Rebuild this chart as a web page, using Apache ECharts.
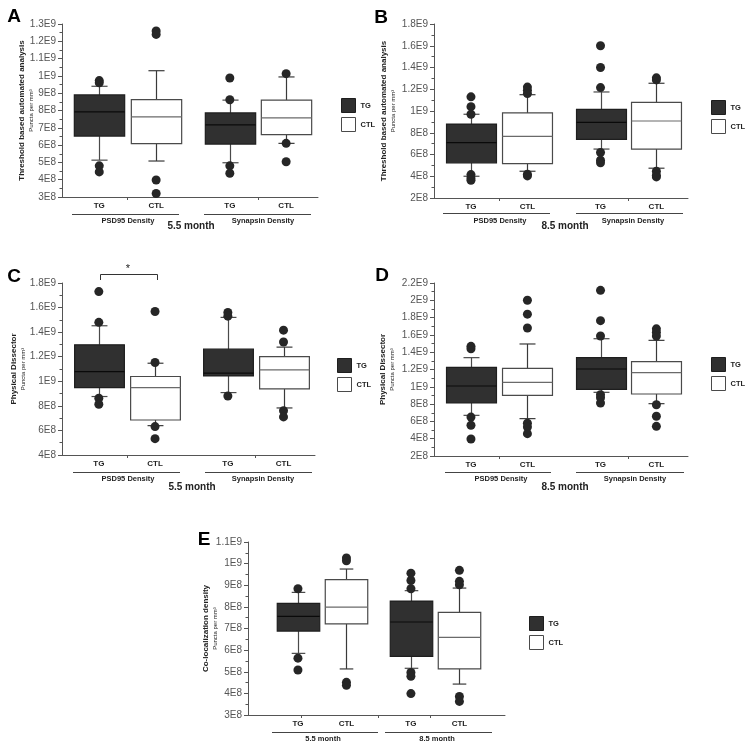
<!DOCTYPE html>
<html><head><meta charset="utf-8">
<script src="https://cdn.jsdelivr.net/npm/echarts@6/dist/echarts.min.js"></script>
<style>html,body{margin:0;padding:0;background:#fff}#c{width:746px;height:750px}</style>
</head><body><div id="c"></div>
<script>
// ---------- DATA ----------
const boxLabels = ['TG', 'CTL', 'TG', 'CTL'];
const seriesNames = ['TG', 'CTL'];
const densityGroups = ['PSD95 Density', 'Synapsin Density'];
const ageGroups = ['5.5 month', '8.5 month'];
const yTitles = ['Threshold based automated analysis', 'Physical Dissector', 'Co-localization density'];
const yUnit = 'Puncta per mm³';
const panelLetters = ['A', 'B', 'C', 'D', 'E'];

// five-number summaries [lower whisker, Q1, median, Q3, upper whisker]; order: TG, CTL, TG, CTL
const boxesA = [[5.13e8, 6.52e8, 7.92e8, 8.9e8, 9.4e8], [5.08e8, 6.08e8, 7.63e8, 8.63e8, 1.03e9], [4.98e8, 6.06e8, 7.17e8, 7.86e8, 8.6e8], [6.1e8, 6.6e8, 7.57e8, 8.6e8, 9.94e8]];
const outliersA = [[9.73e8, 9.6e8, 4.8e8, 4.45e8], [1.26e9, 1.24e9, 3.98e8, 3.2e8], [9.88e8, 8.62e8, 4.8e8, 4.37e8], [1.013e9, 6.1e8, 5.04e8]];

const boxesB = [[4.0e8, 5.23e8, 7.1e8, 8.8e8, 9.7e8], [4.46e8, 5.17e8, 7.66e8, 9.82e8, 1.15e9], [6.5e8, 7.4e8, 8.95e8, 1.015e9, 1.175e9], [4.74e8, 6.5e8, 9.08e8, 1.08e9, 1.255e9]];
const outliersB = [[1.13e9, 1.04e9, 9.7e8, 4.15e8, 3.85e8, 3.63e8], [1.22e9, 1.19e9, 1.16e9, 4.18e8, 4.03e8], [1.6e9, 1.4e9, 1.215e9, 6.18e8, 5.48e8, 5.23e8], [1.305e9, 1.286e9, 4.46e8, 4.09e8, 3.94e8]];

const boxesC = [[8.76e8, 9.49e8, 1.079e9, 1.297e9, 1.452e9], [6.39e8, 6.85e8, 9.49e8, 1.039e9, 1.147e9], [9.08e8, 1.044e9, 1.066e9, 1.261e9, 1.52e9], [7.83e8, 9.38e8, 1.093e9, 1.2e9, 1.278e9]];
const outliersC = [[1.73e9, 1.48e9, 8.62e8, 8.13e8], [1.568e9, 1.153e9, 6.31e8, 5.33e8], [1.56e9, 1.53e9, 8.8e8], [1.416e9, 1.32e9, 7.6e8, 7.1e8]];

const boxesD = [[6.7e8, 8.13e8, 1.009e9, 1.225e9, 1.337e9], [6.32e8, 9.01e8, 1.052e9, 1.213e9, 1.495e9], [9.36e8, 9.71e8, 1.206e9, 1.337e9, 1.556e9], [8.05e8, 9.17e8, 1.163e9, 1.29e9, 1.537e9]];
const outliersD = [[1.468e9, 1.44e9, 6.5e8, 5.55e8, 3.97e8], [2.0e9, 1.84e9, 1.68e9, 5.8e8, 5.35e8, 4.58e8], [2.115e9, 1.765e9, 1.587e9, 9.09e8, 8.74e8, 8.13e8], [1.67e9, 1.63e9, 1.587e9, 7.93e8, 6.59e8, 5.43e8]];

const boxesE = [[5.85e8, 6.88e8, 7.56e8, 8.16e8, 8.67e8], [5.13e8, 7.21e8, 7.99e8, 9.26e8, 9.75e8], [5.16e8, 5.71e8, 7.3e8, 8.27e8, 8.75e8], [4.43e8, 5.13e8, 6.59e8, 7.75e8, 8.87e8]];
const outliersE = [[8.84e8, 5.63e8, 5.08e8], [1.026e9, 1.013e9, 4.51e8, 4.37e8], [9.56e8, 9.22e8, 8.84e8, 4.97e8, 4.79e8, 3.99e8], [9.69e8, 9.18e8, 9.02e8, 3.86e8, 3.63e8]];

// y-axis ranges [min, max, interval]
const yRangeA = [3e8, 1.3e9, 1e8];
const yRangeB = [2e8, 1.8e9, 2e8];
const yRangeC = [4e8, 1.8e9, 2e8];
const yRangeD = [2e8, 2.2e9, 2e8];
const yRangeE = [3e8, 1.1e9, 1e8];

// ---------- LAYOUT ----------
const SLOTS4 = [0.655, 1.655, 2.95, 3.94];
const SLOTS_E = [1.03, 2.03, 3.36, 4.36];
const FONT = '"Liberation Sans", Arial, sans-serif';

const panels = [
  { boxes: boxesA, out: outliersA, y: yRangeA, title: yTitles[0], grid: { left: 62, top: 24, width: 256, height: 173 }, slots: SLOTS4, xmax: 4.5, boxW: 0.885, ticks: [1.155, 3.445], nameGap: 27, legend: [336, 93] },
  { boxes: boxesB, out: outliersB, y: yRangeB, title: yTitles[0], grid: { left: 434, top: 24, width: 254, height: 174 }, slots: SLOTS4, xmax: 4.5, boxW: 0.885, ticks: [1.155, 3.445], nameGap: 37, legend: [706, 95] },
  { boxes: boxesC, out: outliersC, y: yRangeC, title: yTitles[1], grid: { left: 62, top: 283, width: 253, height: 172 }, slots: SLOTS4, xmax: 4.5, boxW: 0.885, ticks: [1.155, 3.445], nameGap: 35, legend: [332, 353] },
  { boxes: boxesD, out: outliersD, y: yRangeD, title: yTitles[1], grid: { left: 434, top: 283, width: 254, height: 173 }, slots: SLOTS4, xmax: 4.5, boxW: 0.885, ticks: [1.155, 3.445], nameGap: 38, legend: [706, 352] },
  { boxes: boxesE, out: outliersE, y: yRangeE, title: yTitles[2], grid: { left: 248, top: 542, width: 257, height: 173 }, slots: SLOTS_E, xmax: 5.3, boxW: 0.876, ticks: [1.09, 2.68, 3.75], nameGap: 29, legend: [524, 611] }
];

const styles = [
  { fill: '#303030', border: '#1e1e1e', median: '#0a0a0a', whisker: '#4a4a4a' },
  { fill: '#ffffff', border: '#4a4a4a', median: '#6a6a6a', whisker: '#3a3a3a' }
];

function sci(v) {
  if (v >= 1e9 - 1) return +(v / 1e9).toFixed(2) + 'E9';
  return +(v / 1e8).toFixed(2) + 'E8';
}

function makeRender(boxW, st) {
  return function (params, api) {
    const x = api.value(0);
    const pMin = api.coord([x, api.value(1)]);
    const pQ1 = api.coord([x, api.value(2)]);
    const pMed = api.coord([x, api.value(3)]);
    const pQ3 = api.coord([x, api.value(4)]);
    const pMax = api.coord([x, api.value(5)]);
    const w = api.size([boxW, 0])[0];
    const cx = Math.round(pMed[0]) + 0.5;
    const half = w / 2, cap = w * 0.16;
    const ls = { stroke: st.whisker, lineWidth: 1.2 };
    return {
      type: 'group', children: [
        { type: 'line', shape: { x1: cx, y1: pMax[1], x2: cx, y2: pQ3[1] }, style: ls },
        { type: 'line', shape: { x1: cx - cap, y1: pMax[1], x2: cx + cap, y2: pMax[1] }, style: ls },
        { type: 'line', shape: { x1: cx, y1: pQ1[1], x2: cx, y2: pMin[1] }, style: ls },
        { type: 'line', shape: { x1: cx - cap, y1: pMin[1], x2: cx + cap, y2: pMin[1] }, style: ls },
        { type: 'rect', shape: { x: cx - half, y: pQ3[1], width: w, height: pQ1[1] - pQ3[1] }, style: { fill: st.fill, stroke: st.border, lineWidth: 1.2 } },
        { type: 'line', shape: { x1: cx - half, y1: pMed[1], x2: cx + half, y2: pMed[1] }, style: { stroke: st.median, lineWidth: 1.2 } }
      ]
    };
  };
}

const grids = [], xAxes = [], yAxes = [], series = [], legends = [];
panels.forEach(function (p, i) {
  grids.push(Object.assign({ containLabel: false }, p.grid));
  xAxes.push({
    type: 'value', gridIndex: i, min: 0, max: p.xmax,
    axisLine: { show: true, onZero: false, lineStyle: { color: '#555', width: 1 } },
    axisTick: { show: true, customValues: p.ticks, length: 3, lineStyle: { color: '#555' } },
    axisLabel: {
      customValues: p.slots, margin: 5,
      formatter: function (v) { const k = p.slots.findIndex(s => Math.abs(s - v) < 1e-6); return k >= 0 ? boxLabels[k] : ''; },
      fontFamily: FONT, fontSize: 8, fontWeight: 'bold', color: '#222'
    },
    splitLine: { show: false }
  });
  yAxes.push({
    type: 'value', gridIndex: i, min: p.y[0], max: p.y[1], interval: p.y[2],
    axisLine: { show: true, lineStyle: { color: '#555', width: 1 } },
    axisTick: { show: true, length: 4, lineStyle: { color: '#555' } },
    minorTick: { show: true, splitNumber: 2, length: 2.5, lineStyle: { color: '#555' } },
    splitLine: { show: false },
    axisLabel: { formatter: sci, fontFamily: FONT, fontSize: 10, color: '#555', margin: 6 },
    name: '{t|' + p.title + '}\n{s|' + yUnit + '}',
    nameLocation: 'middle', nameGap: p.nameGap, nameMoveOverlap: false,
    nameTextStyle: {
      rich: {
        t: { fontFamily: FONT, fontSize: 8, fontWeight: 'bold', color: '#222', lineHeight: 10, align: 'center' },
        s: { fontFamily: FONT, fontSize: 6, color: '#222', lineHeight: 8, align: 'center' }
      }
    }
  });
  [0, 1].forEach(function (s) {
    const data = [];
    p.boxes.forEach(function (b, k) { if (k % 2 === s) data.push([p.slots[k]].concat(b)); });
    series.push({
      type: 'custom', name: seriesNames[s], xAxisIndex: i, yAxisIndex: i,
      renderItem: makeRender(p.boxW, styles[s]),
      itemStyle: { color: styles[s].fill, borderColor: styles[s].border },
      encode: { x: 0, y: [1, 2, 3, 4, 5] },
      data: data, z: 2
    });
  });
  const pts = [];
  p.out.forEach(function (arr, k) { arr.forEach(function (v) { pts.push([p.slots[k], v]); }); });
  series.push({
    type: 'scatter', name: 'outliers', xAxisIndex: i, yAxisIndex: i,
    symbol: 'circle', symbolSize: 9, itemStyle: { color: '#262626', opacity: 1 },
    data: pts, z: 3
  });
  legends.push({
    orient: 'vertical', left: p.legend[0], top: p.legend[1], itemWidth: 14, itemHeight: 14, itemGap: 4,
    selectedMode: false,
    textStyle: { fontFamily: FONT, fontSize: 7.5, fontWeight: 'bold', color: '#222' },
    data: [
      { name: 'TG', icon: 'rect', itemStyle: { color: styles[0].fill, borderColor: '#1e1e1e', borderWidth: 1 } },
      { name: 'CTL', icon: 'rect', itemStyle: { color: '#fff', borderColor: '#4a4a4a', borderWidth: 1 } }
    ]
  });
});

// ---------- ANNOTATIONS ----------
function txt(x, y, text, font, extra) {
  return Object.assign({
    type: 'text', x: x, y: y,
    style: { text: text, font: font, fill: '#222', align: 'center', verticalAlign: 'middle', textAlign: 'center', textVerticalAlign: 'middle' }
  }, extra || {});
}
function ln(x1, y1, x2, y2) {
  return { type: 'line', shape: { x1: x1, y1: y1, x2: x2, y2: y2 }, style: { stroke: '#444', lineWidth: 1 } };
}
const fGroup = 'bold 7.5px ' + FONT;
const fMonth = 'bold 10px ' + FONT;
const fLetter = 'bold 19px ' + FONT;
const gfx = [];
// group brackets and labels
[[214, 72, 179, 204, 311, 221, 128, 263, 191, 226, ageGroups[0]],
 [213, 443, 550, 576, 683, 221, 500, 633, 565, 226, ageGroups[1]],
 [472, 73, 180, 205, 312, 479, 128, 263, 192, 487, ageGroups[0]],
 [472, 445, 551, 576, 684, 479, 501, 635, 565, 487, ageGroups[1]]].forEach(function (g) {
  gfx.push(ln(g[1], g[0] + 0.5, g[2], g[0] + 0.5), ln(g[3], g[0] + 0.5, g[4], g[0] + 0.5));
  gfx.push(txt(g[6], g[5], densityGroups[0], fGroup), txt(g[7], g[5], densityGroups[1], fGroup));
  gfx.push(txt(g[8], g[9], g[10], fMonth));
});
gfx.push(ln(272, 732.5, 378, 732.5), ln(385, 732.5, 492, 732.5));
gfx.push(txt(323, 739, ageGroups[0], fGroup), txt(437, 739, ageGroups[1], fGroup));
// panel letters
[[14, 17], [381, 18], [14, 277], [382, 276], [204, 540]].forEach(function (q, k) {
  gfx.push(txt(q[0], q[1], panelLetters[k], fLetter, {}));
  gfx[gfx.length - 1].style.fill = '#000';
});
// significance bracket (panel C)
gfx.push({ type: 'polyline', shape: { points: [[100.5, 280], [100.5, 274.5], [157.5, 274.5], [157.5, 280]] }, style: { stroke: '#333', lineWidth: 1, fill: null } });
gfx.push(txt(128, 269, '*', '11px ' + FONT));

const chart = echarts.init(document.getElementById('c'), null, { renderer: 'canvas' });
chart.setOption({
  animation: false,
  backgroundColor: '#fff',
  grid: grids, xAxis: xAxes, yAxis: yAxes, series: series, legend: legends,
  graphic: { elements: gfx }
});
</script></body></html>
